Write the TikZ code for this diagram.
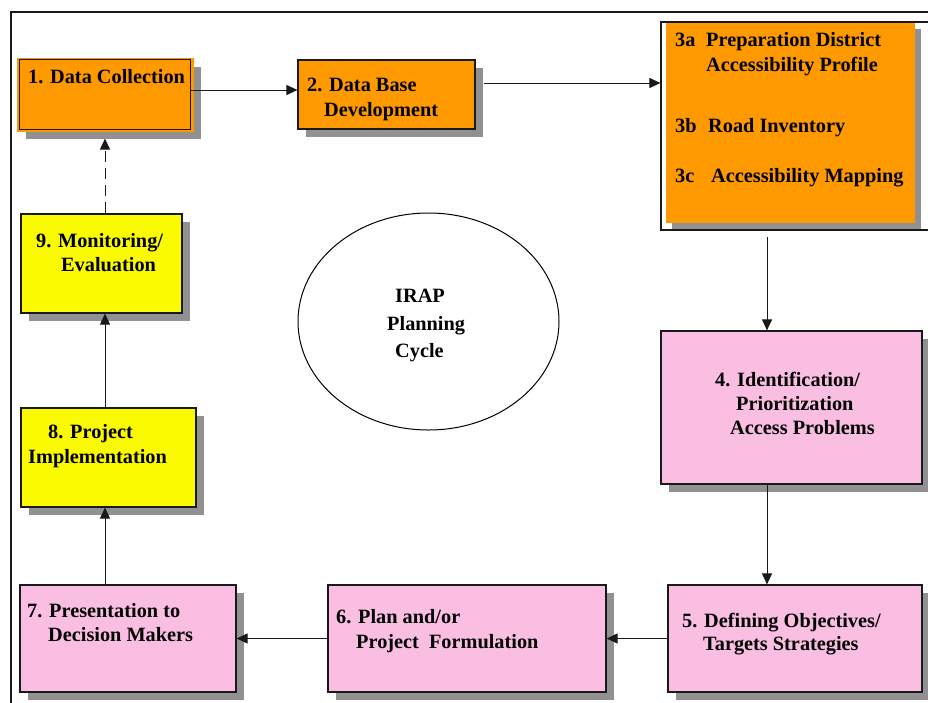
\documentclass[tikz,border=0pt]{standalone}
\usepackage{fontspec}
\setmainfont{Liberation Serif}
\usetikzlibrary{arrows.meta,shapes.geometric,shadows}
\definecolor{orangeC}{RGB}{255,153,0}
\definecolor{yellowC}{RGB}{250,250,0}
\definecolor{pinkC}{RGB}{250,190,227}
\definecolor{shadowC}{RGB}{145,145,145}
\definecolor{lineC}{RGB}{25,25,25}
\tikzset{
  boxnode/.style={rectangle, draw=lineC, line width=1.2pt, inner sep=0pt,
    drop shadow={shadow xshift=8pt, shadow yshift=-8pt, fill=shadowC, opacity=1}},
  txt/.style={anchor=base west, inner sep=0pt, text=black,
    font=\bfseries\fontsize{20.3}{24}\selectfont},
  arr/.style={draw=lineC, line width=1pt, -{Triangle[length=11pt,width=10pt]}},
  darr/.style={arr, dash pattern=on 11pt off 6pt},
}
\begin{document}
\begin{tikzpicture}[x=1pt,y=-1pt]
\useasboundingbox (0,0) rectangle (928,702);
\clip (0,0) rectangle (928,702);
\fill[white] (0,0) rectangle (928,702);
% outer frame
\draw[line width=1.3pt, lineC] (11,760) -- (11,12) -- (960,12);

% column coordinates
\coordinate (col) at (105,0);
\coordinate (c34) at (767,237);

% box 1 (orange frame with black inner border)
\node[boxnode, draw=orangeC, fill=orangeC, minimum width=175pt, minimum height=72pt] (b1) at (105.5,95) {};
\draw[lineC, line width=1.2pt] ([shift={(2pt,-1pt)}]b1.north west) rectangle ([shift={(-3pt,2pt)}]b1.south east);
% box 2
\node[boxnode, fill=orangeC, minimum width=177pt, minimum height=69pt] (b2) at (386.5,94.5) {};
% box 3
\node[rectangle, draw=lineC, line width=1.2pt, fill=white, minimum width=284pt, minimum height=208pt, inner sep=0pt] (b3f) at (803,126) {};
\node[rectangle, fill=orangeC, minimum width=249pt, minimum height=200pt, inner sep=0pt,
  drop shadow={shadow xshift=6pt, shadow yshift=-6pt, fill=shadowC, opacity=1}] (b3) at (790.5,123) {};
% box 4
\node[boxnode, fill=pinkC, minimum width=261pt, minimum height=153pt] (b4) at (791.5,407.5) {};
% box 5
\node[boxnode, fill=pinkC, minimum width=254pt, minimum height=107pt] (b5) at (795,638.5) {};
% box 6
\node[boxnode, fill=pinkC, minimum width=278pt, minimum height=107pt] (b6) at (467,638.5) {};
% box 7
\node[boxnode, fill=pinkC, minimum width=216pt, minimum height=107pt] (b7) at (128,638.5) {};
% box 8
\node[boxnode, fill=yellowC, minimum width=175pt, minimum height=99pt] (b8) at (108.5,457.5) {};
% box 9
\node[boxnode, fill=yellowC, minimum width=161pt, minimum height=99pt] (b9) at (101.5,263.5) {};
% ellipse
\node[ellipse, draw=black, line width=1pt, minimum width=261pt, minimum height=217pt, inner sep=0pt] (cyc) at (428.5,321.5) {};

% texts
\node[txt] (t1) at (28,83) {1. Data Collection};
\node[txt] (t2a) at (307,91) {2. Data Base};
\node[txt] (t2b) at (324,116) {Development};
\node[txt] (t3a) at (675,46) {3a};
\node[txt] (t3a1) at (706,46) {Preparation District};
\node[txt] (t3a2) at (706,71) {Accessibility Profile};
\node[txt] (t3b) at (675,132) {3b};
\node[txt] (t3b1) at (708,132) {Road Inventory};
\node[txt] (t3c) at (675,182) {3c};
\node[txt] (t3c1) at (711,182) {Accessibility Mapping};
\node[txt] (t4a) at (715,386) {4. Identification/};
\node[txt] (t4b) at (736,410) {Prioritization};
\node[txt] (t4c) at (730,434) {Access Problems};
\node[txt] (t5a) at (682,627) {5. Defining Objectives/};
\node[txt] (t5b) at (703,650) {Targets Strategies};
\node[txt] (t6a) at (336,623) {6. Plan and/or};
\node[txt] (t6b) at (356,648) {Project\hspace{0.5em}Formulation};
\node[txt] (t7a) at (27,617) {7. Presentation to};
\node[txt] (t7b) at (48,641) {Decision Makers};
\node[txt] (t8a) at (48,438) {8. Project};
\node[txt] (t8b) at (28,463) {Implementation};
\node[txt] (t9a) at (36,247) {9. Monitoring/};
\node[txt] (t9b) at (61,271) {Evaluation};
\node[txt] (tc1) at (395,302) {IRAP};
\node[txt] (tc2) at (387,330) {Planning};
\node[txt] (tc3) at (395,357) {Cycle};

% connectors
\draw[arr] ([shift={(-3pt,5pt)}]b1.east) coordinate (s12) -- (s12 -| b2.west);
\draw[arr] ([shift={(8pt,11.5pt)}]b2.east) coordinate (s23) -- (s23 -| b3f.west);
\draw[arr] (c34) -- (c34 |- b4.north);
\draw[arr] (c34 |- b4.south) -- (c34 |- b5.north);
\draw[arr] (b5.west) -- (b6.east);
\draw[arr] (b6.west) -- (b7.east);
\draw[arr] (col |- b7.north) -- (col |- b8.south);
\draw[arr] (col |- b8.north) -- (col |- b9.south);
\draw[darr] (col |- b9.north) -- ([yshift=-7pt]col |- b1.south);
\end{tikzpicture}
\end{document}
